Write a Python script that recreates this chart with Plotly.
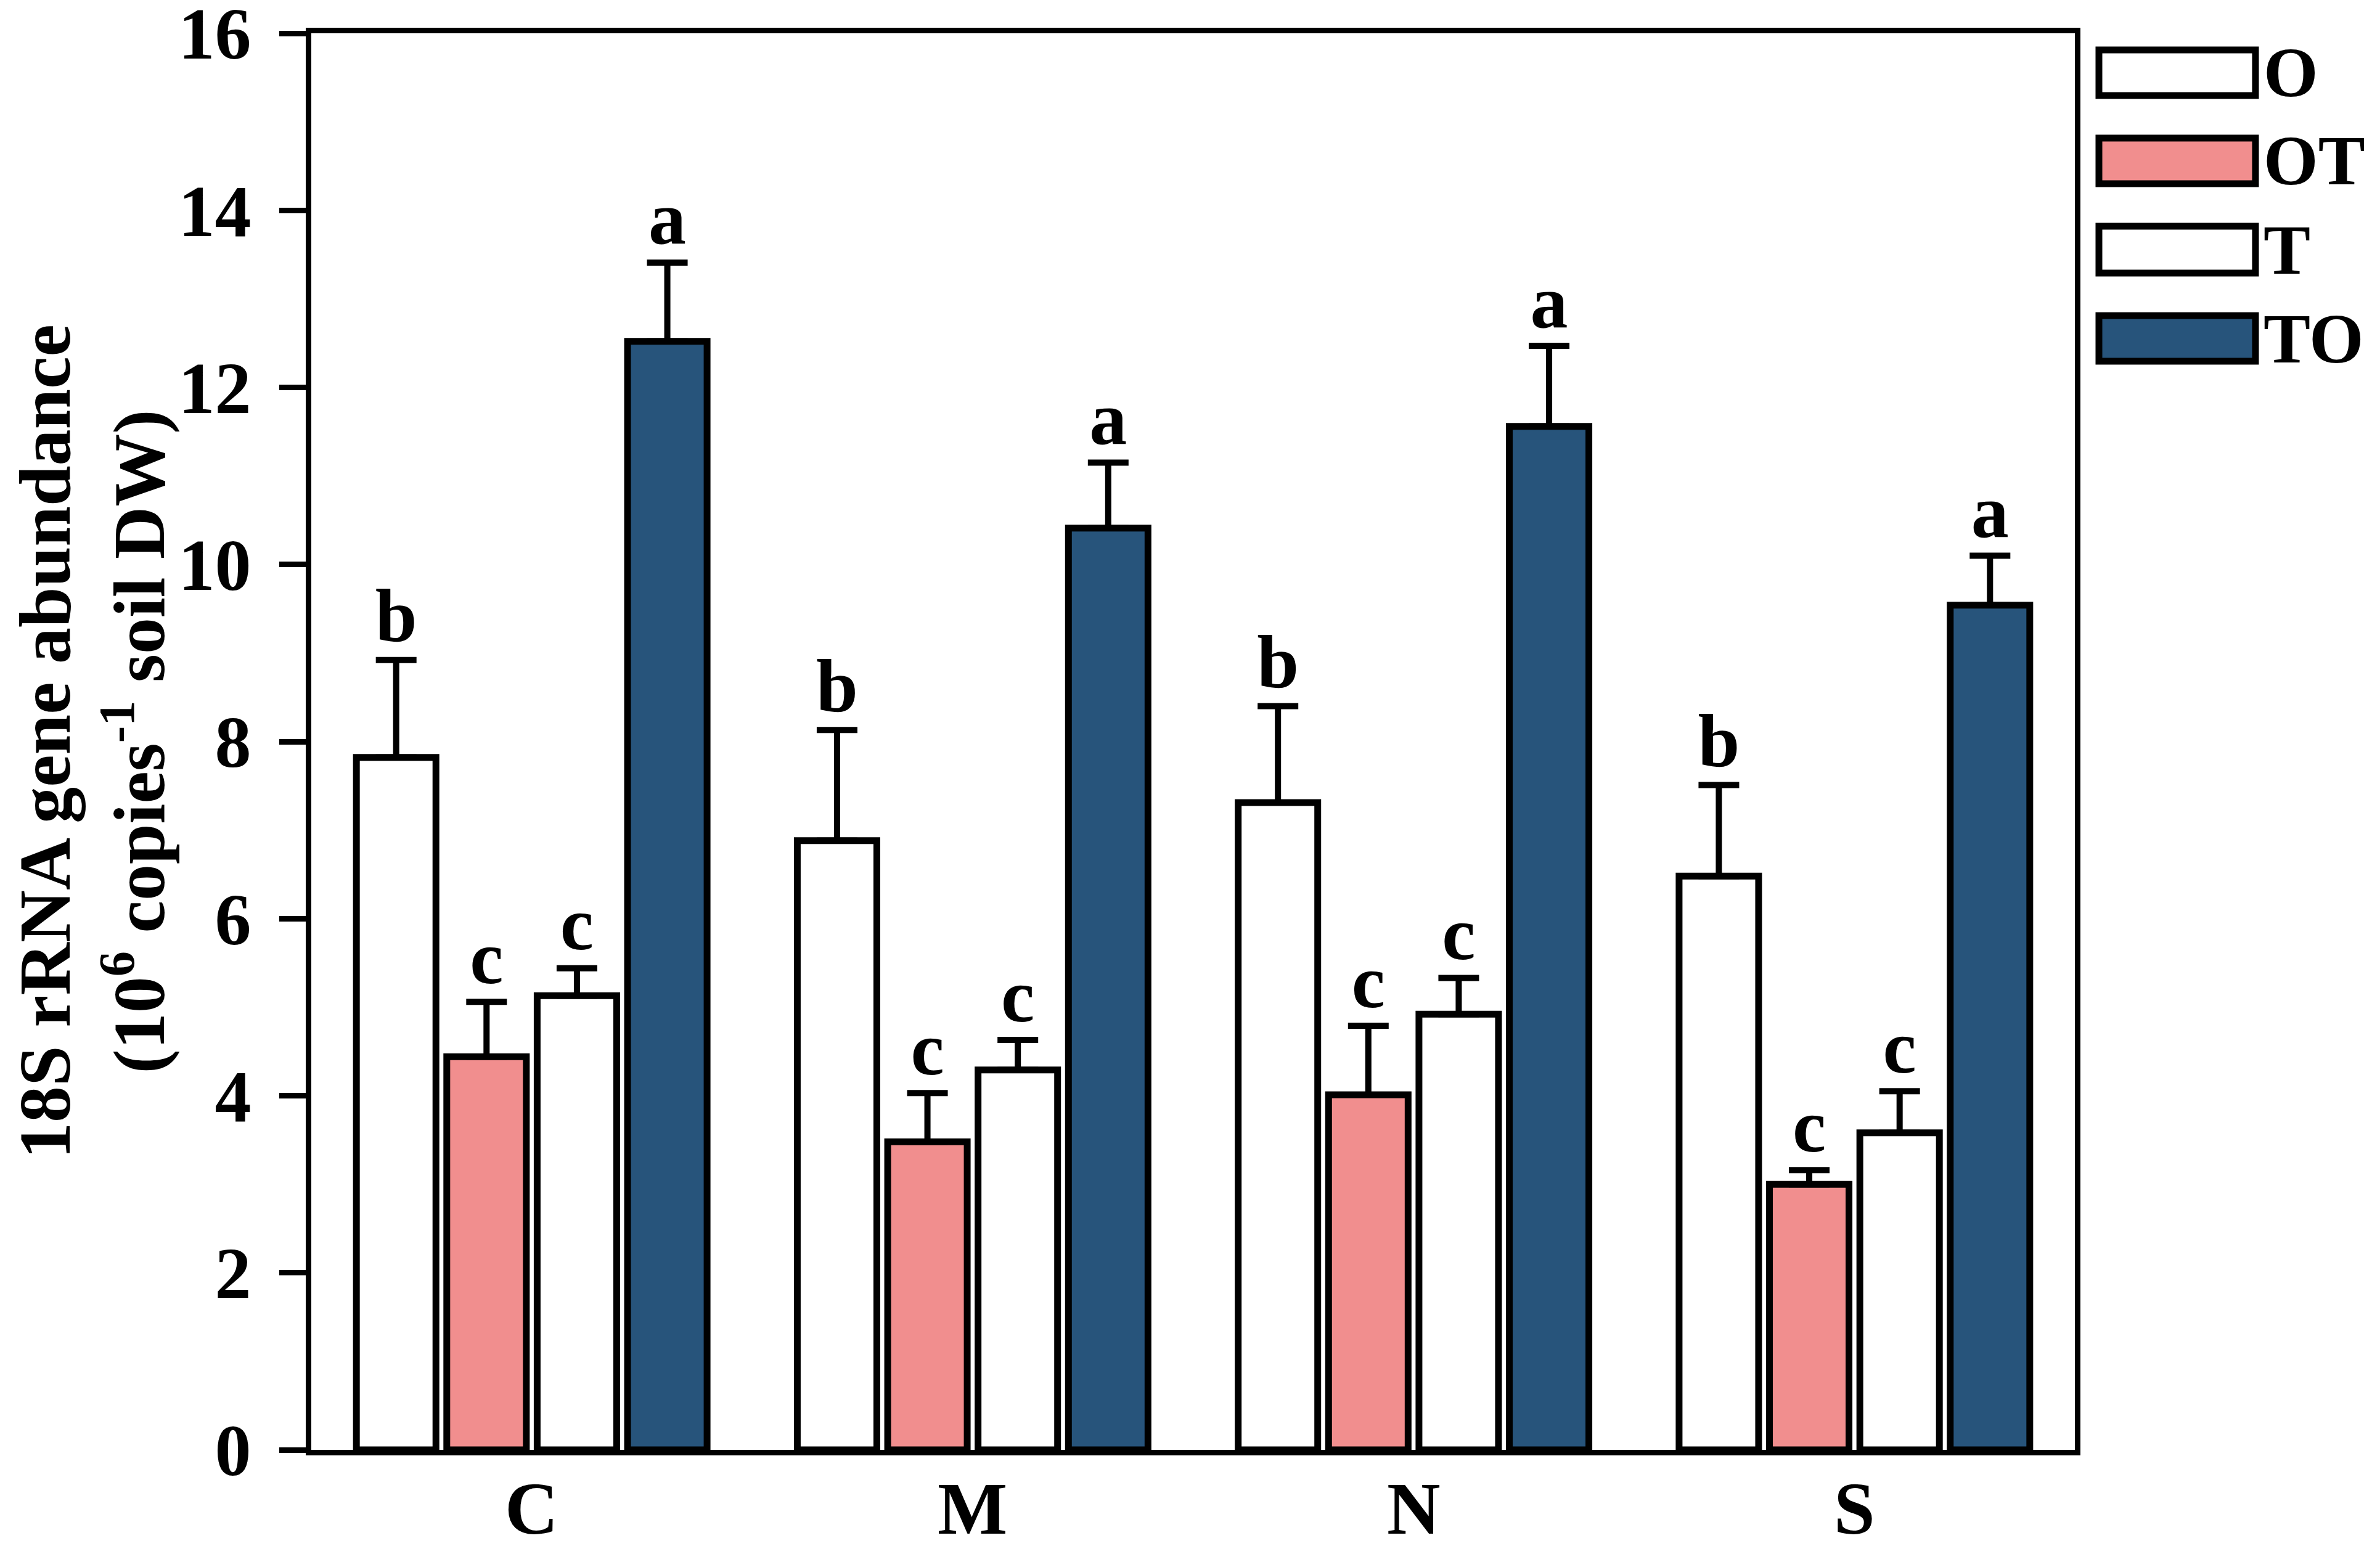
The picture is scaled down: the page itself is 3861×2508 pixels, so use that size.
import plotly.graph_objects as go

# data
sites = ["C", "M", "N", "S"]
treatments = ["O", "OT", "T", "TO"]
fills = {"O": "white", "OT": "#F18E8E", "T": "white", "TO": "#27547B"}

mean_O = [7.82, 6.88, 7.31, 6.48]
mean_OT = [4.44, 3.48, 4.01, 3.00]
mean_T = [5.13, 4.29, 4.92, 3.58]
mean_TO = [12.52, 10.41, 11.56, 9.54]

err_O = [1.10, 1.25, 1.09, 1.03]
err_OT = [0.62, 0.55, 0.78, 0.16]
err_T = [0.31, 0.34, 0.41, 0.47]
err_TO = [0.89, 0.74, 0.91, 0.56]

letters_O = ["b", "b", "b", "b"]
letters_OT = ["c", "c", "c", "c"]
letters_T = ["c", "c", "c", "c"]
letters_TO = ["a", "a", "a", "a"]

means = {"O": mean_O, "OT": mean_OT, "T": mean_T, "TO": mean_TO}
errs = {"O": err_O, "OT": err_OT, "T": err_T, "TO": err_TO}
letters = {"O": letters_O, "OT": letters_OT, "T": letters_T, "TO": letters_TO}

# the page body adds an 8px margin, so the figure is made 8px smaller
PAD = 8
W, H = 3861 - PAD, 2508 - PAD
L, R, T, B = 505 - PAD, 3366 - PAD, 54 - PAD, 2352 - PAD   # plot area in figure pixels
FONT = "Liberation Serif"
BAR_LW = 11
AX_LW = 9
FS = 118

fig = go.Figure()

for tr in treatments:
    fig.add_trace(go.Bar(
        x=sites, y=means[tr], name=tr,
        marker=dict(color=fills[tr], line=dict(color="black", width=BAR_LW)),
        error_y=dict(type="data", array=errs[tr], arrayminus=[0] * len(sites),
                     symmetric=False, color="black", thickness=10, width=33),
        showlegend=False,
    ))

# significance letters sitting on the error bars
for tr in treatments:
    tops = [m + e for m, e in zip(means[tr], errs[tr])]
    fig.add_trace(go.Scatter(
        x=sites, y=tops, mode="text", text=letters[tr],
        textposition="top center",
        textfont=dict(family=FONT, size=122, color="black", weight="bold"),
        showlegend=False, hoverinfo="skip",
    ))

# category labels under the axis (placed a bit tighter than plotly's default)
for s in sites:
    fig.add_annotation(x=s, xref="x", y=0, yref="paper", yanchor="middle",
                       yshift=-95, text=s, showarrow=False,
                       font=dict(family=FONT, size=120, color="black", weight="bold"))

# hand-made legend (wide boxes like the original)
def px_x(p):
    return (p - PAD - L) / (R - L)

def px_y(p):
    return (B - (p - PAD)) / (B - T)

legend_rows = [(81, 155), (224, 298), (367, 443), (512, 586)]
for tr, (y0, y1) in zip(treatments, legend_rows):
    fig.add_shape(type="rect", xref="paper", yref="paper",
                  x0=px_x(3405), x1=px_x(3659), y0=px_y(y1), y1=px_y(y0),
                  fillcolor=fills[tr], line=dict(color="black", width=11))
    fig.add_annotation(xref="paper", yref="paper", x=px_x(3670), y=px_y((y0 + y1) / 2),
                       text=tr, showarrow=False, xanchor="left", yanchor="middle",
                       font=dict(family=FONT, size=114, color="black", weight="bold"))

fig.update_layout(
    width=W, height=H,
    margin=dict(l=L, r=W - R, t=T, b=H - B, autoexpand=False),
    paper_bgcolor="white", plot_bgcolor="white",
    barmode="group", bargap=0.18, bargroupgap=0.12,
    scattermode="group", scattergap=0.18,
    font=dict(family=FONT, size=FS, color="black", weight="bold"),
    showlegend=False,
)
fig.update_xaxes(
    type="category", categoryorder="array", categoryarray=sites,
    showline=True, linecolor="black", linewidth=AX_LW, mirror=True,
    ticks="", showticklabels=False, showgrid=False, automargin=False,
)
fig.update_yaxes(
    range=[0, 16], dtick=2,
    showline=True, linecolor="black", linewidth=AX_LW, mirror=True,
    ticks="outside", ticklen=43, tickwidth=AX_LW, tickcolor="black",
    ticklabelstandoff=22, ticklabeloverflow="allow",
    showgrid=False, zeroline=False, automargin=False,
    tickfont=dict(family=FONT, size=FS, color="black", weight="bold"),
    title=dict(text="18S rRNA gene abundance<br>(10<sup>6</sup> copies<sup>-1</sup> soil DW)",
               font=dict(family=FONT, size=FS, color="black", weight="bold"),
               standoff=30),
)

fig.write_html("out.html")
